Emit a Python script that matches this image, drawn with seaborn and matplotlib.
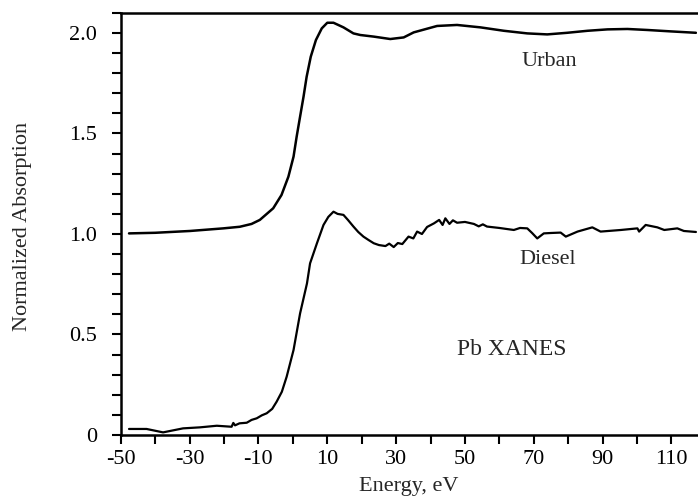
import matplotlib
matplotlib.use("Agg")
import matplotlib.pyplot as plt
import seaborn as sns
import pandas as pd
from matplotlib.ticker import MultipleLocator

# ---- data ----
urban_energy = [-47.6, -40, -29.9, -20.2, -15.4, -12.0, -9.6, -5.7, -3.3, -1.3, 0.2, 1.1, 2.1,
                3.1, 4.0, 5.2, 6.7, 8.4, 10.0, 11.8, 14.7, 17.6, 19.6, 23.5, 28.3, 32.2,
                35.1, 41.9, 47.7, 54.5, 61.3, 68.1, 73.9, 79.7, 85.6, 91.4, 97.2, 103.0,
                109.8, 117.1]
urban_abs = [1.003, 1.006, 1.015, 1.028, 1.036, 1.050, 1.070, 1.128, 1.194, 1.285, 1.385,
             1.484, 1.584, 1.683, 1.782, 1.882, 1.965, 2.023, 2.051, 2.051, 2.028, 1.998,
             1.990, 1.982, 1.970, 1.978, 2.003, 2.035, 2.040, 2.028, 2.011, 1.998, 1.993,
             2.001, 2.011, 2.018, 2.020, 2.015, 2.008, 2.001]

diesel_energy = [-47.6, -42.5, -37.7, -31.9, -27.0, -22.1, -17.8, -17.3, -16.8, -15.5, -13.4,
                 -12.0, -10.5, -9.0, -7.6, -6.0, -4.7, -3.2, -1.8, 0.2, 2.1, 4.1, 5.0, 7.0,
                 8.9, 10.3, 11.8, 13.0, 14.7, 16.0, 17.6, 19.0, 20.5, 22.0, 23.5, 25.0, 26.9,
                 28.0, 29.3, 30.5, 31.8, 33.6, 35.0, 36.1, 37.5, 39.0, 41.0, 42.5, 43.5,
                 44.3, 45.5, 46.5, 47.7, 50.0, 52.6, 54.0, 55.2, 56.4, 60.0, 62.5, 64.2,
                 66.0, 68.1, 69.5, 71.0, 72.9, 75.0, 77.8, 79.3, 82.7, 87.0, 89.4, 95.3,
                 100.1, 100.6, 102.5, 105.9, 107.9, 111.7, 113.6, 117.1]
diesel_abs = [0.030, 0.030, 0.013, 0.033, 0.038, 0.046, 0.041, 0.060, 0.048, 0.058, 0.061,
              0.075, 0.083, 0.098, 0.108, 0.130, 0.166, 0.215, 0.290, 0.423, 0.605, 0.754,
              0.854, 0.954, 1.045, 1.085, 1.111, 1.100, 1.095, 1.070, 1.037, 1.010, 0.987,
              0.970, 0.954, 0.945, 0.940, 0.952, 0.935, 0.955, 0.950, 0.987, 0.978, 1.012,
              1.000, 1.035, 1.053, 1.070, 1.045, 1.078, 1.050, 1.068, 1.056, 1.060, 1.050,
              1.038, 1.048, 1.037, 1.030, 1.024, 1.020, 1.030, 1.028, 1.005, 0.978, 1.003,
              1.005, 1.007, 0.987, 1.012, 1.033, 1.012, 1.020, 1.028, 1.012, 1.045, 1.033,
              1.020, 1.028, 1.015, 1.010]

x_ticks = [-50, -30, -10, 10, 30, 50, 70, 90, 110]
y_ticks = [0, 0.5, 1.0, 1.5, 2.0]
y_tick_labels = ["0", "0.5", "1.0", "1.5", "2.0"]

sns.set_style("ticks")
plt.rcParams['font.family'] = ['Liberation Serif', 'DejaVu Serif']

fig = plt.figure(figsize=(6.98, 4.96), dpi=100)
ax = fig.add_axes([0.173, 0.123, 0.826, 0.851])

df_u = pd.DataFrame({"Energy": urban_energy, "Abs": urban_abs})
df_d = pd.DataFrame({"Energy": diesel_energy, "Abs": diesel_abs})
sns.lineplot(data=df_u, x="Energy", y="Abs", ax=ax, color="black", lw=1.8, sort=False)
sns.lineplot(data=df_d, x="Energy", y="Abs", ax=ax, color="black", lw=1.6, sort=False)

ax.set_xlim(-50, 117.5)
ax.set_ylim(0, 2.1)
ax.set_xticks(x_ticks)
ax.set_xticklabels([str(t) for t in x_ticks])
ax.xaxis.set_minor_locator(MultipleLocator(10))
ax.set_yticks(y_ticks)
ax.set_yticklabels(y_tick_labels)
ax.yaxis.set_minor_locator(MultipleLocator(0.1))
ax.tick_params(axis="both", which="both", direction="out", length=6.5, width=1.5,
               labelsize=16, colors="black")
ax.tick_params(axis="x", which="both", pad=4)
ax.tick_params(axis="y", which="both", pad=10.5)
for side in ["left", "bottom", "top"]:
    ax.spines[side].set_linewidth(1.8)
    ax.spines[side].set_color("black")
ax.spines["right"].set_visible(False)

ax.set_xlabel("")
ax.set_ylabel("")
fig.text(409 / 698, 1 - 486 / 496, "Energy, eV", fontsize=16, ha="center", va="center")
fig.text(23 / 698, 1 - 226 / 496, "Normalized Absorption", fontsize=16, rotation=90,
         ha="center", va="center")

ax.text(74.4, 1.857, "Urban", fontsize=16, ha="center", va="center")
ax.text(73.9, 0.871, "Diesel", fontsize=16, ha="center", va="center")
ax.text(63.7, 0.423, "Pb XANES", fontsize=17, ha="center", va="center")

fig.savefig("out.png", dpi=100)
